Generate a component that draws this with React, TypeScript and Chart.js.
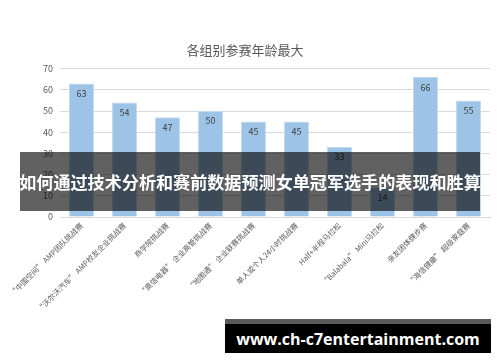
import React, { useEffect, useRef } from "react";
import { Chart, registerables } from "chart.js";

Chart.register(...registerables);

const chartTitle = "各组别参赛年龄最大";
const categories = [
  "“中国空间” AMP团队挑战赛",
  "“沃尔沃汽车” AMP校友企业挑战赛",
  "商学院挑战赛",
  "“奥信电器” 企业高管挑战赛",
  "“地图通” 企业联赛挑战赛",
  "单人或个人24小时挑战赛",
  "Half+半程马拉松",
  "“Balabala” Mini马拉松",
  "亲友团体健步赛",
  "“海信健康” 超级家庭赛",
];
const maxAges = [63, 54, 47, 50, 45, 45, 33, 14, 66, 55];
const yTicks = [0, 10, 20, 30, 40, 50, 60, 70];
const bannerText = "如何通过技术分析和赛前数据预测女单冠军选手的表现和胜算";
const siteText = "www.ch-c7entertainment.com";

const FONT = "'Noto Sans CJK SC', 'Noto Sans', sans-serif";

const valueLabels = {
  id: "valueLabels",
  afterDatasetsDraw(chart: any) {
    const ctx = chart.ctx;
    const meta = chart.getDatasetMeta(0);
    ctx.save();
    ctx.font = `9px ${FONT}`;
    ctx.fillStyle = "#404040";
    ctx.textAlign = "center";
    ctx.textBaseline = "middle";
    meta.data.forEach((bar: any, i: number) => {
      ctx.fillText(String(chart.data.datasets[0].data[i]), bar.x, bar.y + 10);
    });
    ctx.restore();
  },
};

export default function App() {
  const ref = useRef<HTMLCanvasElement>(null);
  useEffect(() => {
    const chart = new Chart(ref.current!, {
      type: "bar",
      data: {
        labels: categories,
        datasets: [
          {
            data: maxAges,
            backgroundColor: "#9dc3e6",
            borderColor: "#c2daf0",
            borderWidth: 1,
            categoryPercentage: 1,
            barPercentage: 0.58,
          },
        ],
      },
      options: {
        animation: false,
        responsive: false,
        maintainAspectRatio: false,
        layout: { padding: { top: 40, left: 0, right: 10, bottom: 0 } },
        plugins: {
          legend: { display: false },
          tooltip: { enabled: false },
          title: {
            display: true,
            text: chartTitle,
            color: "#595959",
            font: { family: FONT, size: 13, weight: "normal" },
            padding: { top: 2, bottom: 11 },
          },
        },
        scales: {
          x: {
            grid: { display: false, drawTicks: false },
            border: { color: "#d9d9d9" },
            ticks: {
              color: "#595959",
              font: { family: FONT, size: 7.5 },
              maxRotation: 45,
              minRotation: 45,
              autoSkip: false,
              padding: 4,
            },
            afterFit(scale: any) {
              scale.height = 145;
            },
          },
          y: {
            min: 0,
            max: 70,
            afterBuildTicks(scale: any) {
              scale.ticks = yTicks.map((v) => ({ value: v }));
            },
            grid: { color: "#d9d9d9", drawTicks: false },
            border: { display: false },
            ticks: {
              color: "#595959",
              font: { family: FONT, size: 9 },
              padding: 7,
            },
            afterFit(scale: any) {
              scale.width = 60;
            },
          },
        },
      },
      plugins: [valueLabels],
    });
    return () => chart.destroy();
  }, []);

  return (
    <div
      style={{
        position: "absolute",
        left: 0,
        top: 0,
        width: 500,
        height: 362,
        background: "#fff",
        overflow: "hidden",
      }}
    >
      <canvas ref={ref} width={500} height={362} style={{ display: "block" }} />
      <div
        style={{
          position: "absolute",
          left: 20,
          top: 152,
          width: 460,
          height: 59,
          background: "rgba(0,0,0,0.62)",
          color: "#fff",
          fontFamily: FONT,
          fontWeight: "bold",
          fontSize: 17.1,
          display: "flex",
          alignItems: "center",
          justifyContent: "center",
          whiteSpace: "nowrap",
        }}
      >
        {bannerText}
      </div>
      <div
        style={{
          position: "absolute",
          left: 225,
          top: 319,
          width: 266,
          height: 34,
          background: "#000",
          borderTop: "5px solid #5a5a5a",
          boxSizing: "border-box",
          color: "#fff",
          fontFamily: "'Open Sans', sans-serif",
          fontWeight: "bold",
          fontSize: 16,
          display: "flex",
          alignItems: "center",
          justifyContent: "center",
          whiteSpace: "nowrap",
        }}
      >
        {siteText}
      </div>
    </div>
  );
}
